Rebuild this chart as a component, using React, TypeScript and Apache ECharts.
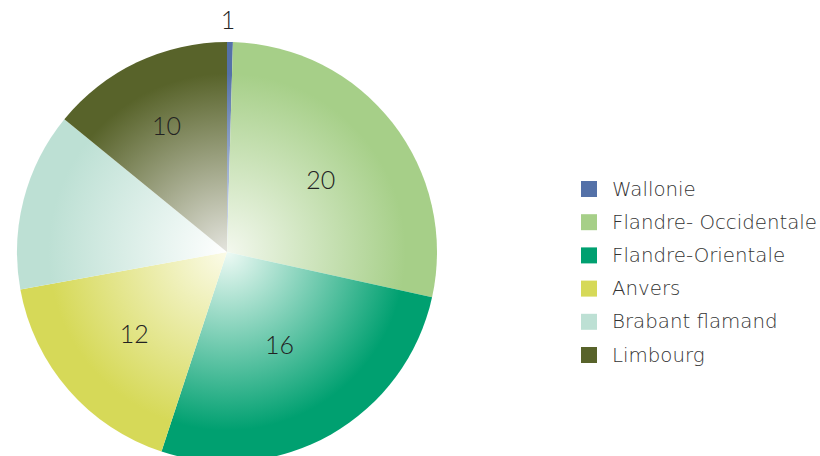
import React, { useEffect, useRef } from "react";
import * as echarts from "echarts";

const categories = ["Wallonie", "Flandre- Occidentale", "Flandre-Orientale", "Anvers", "Brabant flamand", "Limbourg"];
const shares = [0.45, 28.0, 26.6, 17.1, 13.75, 14.1];
const labels: (number | null)[] = [1, 20, 16, 12, null, 10];
const colors = ["#5471a8", "#a6cf88", "#00a070", "#d6d958", "#bde0d4", "#58632a"];
const innerTints = ["#dfe6f2", "#f3f8ee", "#eefaf5", "#fbfbe8", "#ffffff", "#e4e4de"];

const CX = 227;
const CY = 252;
const R = 210;
// label distance from centre (style only)
const labelRadius = [0, 119, 106, 123, 0, 141];

export default function App() {
  const ref = useRef<HTMLDivElement>(null);
  useEffect(() => {
    document.body.style.margin = "0";
    const chart = echarts.init(ref.current!, undefined, { renderer: "svg" });
    const data = categories.map((name, i) => ({
      name,
      value: shares[i],
      itemStyle: {
        color: {
          type: "radial",
          x: CX,
          y: CY,
          r: R,
          global: true,
          colorStops: [
            { offset: 0, color: innerTints[i] },
            { offset: 0.85, color: colors[i] },
            { offset: 1, color: colors[i] },
          ],
        },
      },
      label:
        i === 0
          ? { show: true, position: "outside", formatter: String(labels[i]), color: "#222222" }
          : labels[i] === null
          ? { show: false }
          : { show: true, position: "inside", formatter: String(labels[i]), color: "#222222" },
      labelLine: i === 0 ? { show: false, length: 16, length2: 0 } : { show: false },
    }));
    chart.setOption({
      animation: false,
      color: colors,
      legend: {
        orient: "vertical",
        left: 581,
        top: 179,
        padding: 0,
        icon: "rect",
        itemWidth: 16,
        itemHeight: 16,
        itemGap: 13.2,
        data: categories.map((name, i) => ({ name, itemStyle: { color: colors[i] } })),
        textStyle: {
          fontFamily: "'DejaVu Sans', sans-serif",
          fontWeight: 200,
          fontSize: 19.8,
          lineHeight: 19,
          color: "#333333",
          padding: [0, 0, 0, 10],
        },
      },
      series: [
        {
          type: "pie",
          center: [CX, CY],
          radius: [0, R],
          startAngle: 90,
          clockwise: true,
          avoidLabelOverlap: false,
          itemStyle: { borderWidth: 0 },
          label: {
            color: "#222222",
            fontFamily: "Lato, 'Noto Sans', sans-serif",
            fontWeight: 300,
            fontSize: 25,
          },
          labelLayout: (p: any) => {
            const r = p.labelRect;
            const mx = r.x + r.width / 2;
            const my = r.y + r.height / 2;
            if (p.dataIndex === 0) {
              return { dx: CX + 1 - mx, dy: -7 };
            }
            const vx = mx - CX;
            const vy = my - CY;
            const d = Math.sqrt(vx * vx + vy * vy) || 1;
            const k = labelRadius[p.dataIndex] / d;
            return { dx: vx * k - vx, dy: vy * k - vy };
          },
          emphasis: { disabled: true },
          data,
        },
      ],
    });
    return () => chart.dispose();
  }, []);
  return <div ref={ref} style={{ width: 820, height: 456 }} />;
}
